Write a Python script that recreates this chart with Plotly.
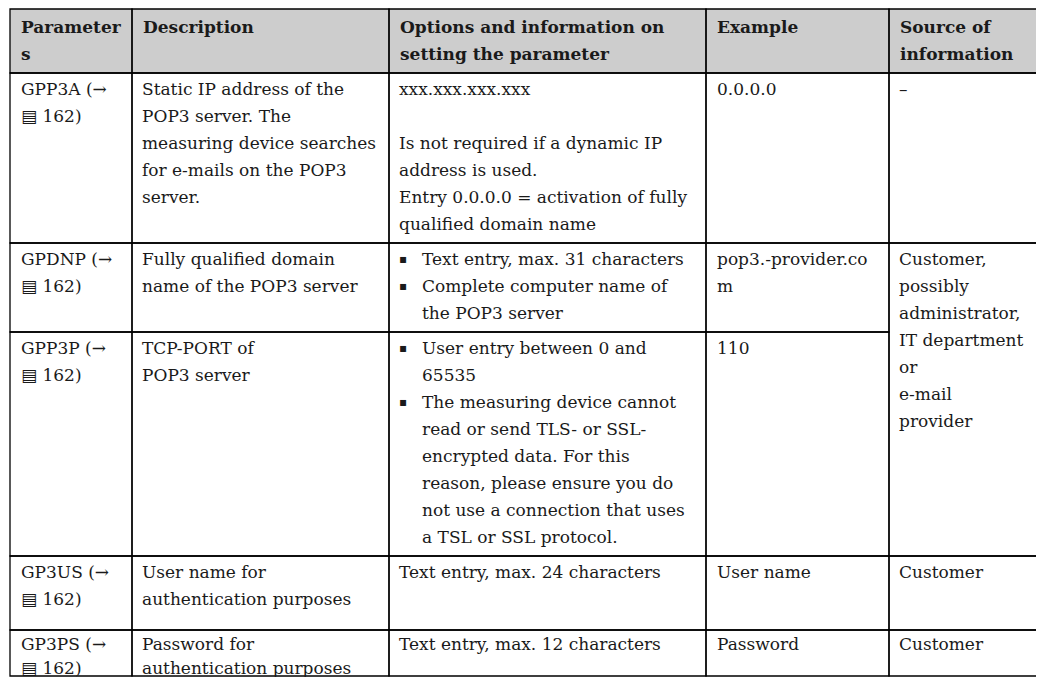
import plotly.graph_objects as go

# ---------------- data ----------------
headers = [
    ["Parameter", "s"],
    ["Description"],
    ["Options and information on", "setting the parameter"],
    ["Example"],
    ["Source of", "information"],
]

param_codes = ["GPP3A", "GPDNP", "GPP3P", "GP3US", "GP3PS"]
param_pages = ["162", "162", "162", "162", "162"]

descriptions = [
    ["Static IP address of the", "POP3 server. The", "measuring device searches",
     "for e-mails on the POP3", "server."],
    ["Fully qualified domain", "name of the POP3 server"],
    ["TCP-PORT of", "POP3 server"],
    ["User name for", "authentication purposes"],
    ["Password for", "authentication purposes"],
]

# each option cell: ("plain", [lines]) or ("bullets", [[lines], [lines]])
options = [
    ("plain", ["xxx.xxx.xxx.xxx", "", "Is not required if a dynamic IP", "address is used.",
               "Entry 0.0.0.0 = activation of fully", "qualified domain name"]),
    ("bullets", [["Text entry, max. 31 characters"],
                 ["Complete computer name of", "the POP3 server"]]),
    ("bullets", [["User entry between 0 and", "65535"],
                 ["The measuring device cannot", "read or send TLS- or SSL-",
                  "encrypted data. For this", "reason, please ensure you do",
                  "not use a connection that uses", "a TSL or SSL protocol."]]),
    ("plain", ["Text entry, max. 24 characters"]),
    ("plain", ["Text entry, max. 12 characters"]),
]

examples = [["0.0.0.0"], ["pop3.-provider.co", "m"], ["110"], ["User name"], ["Password"]]

# source column: (first row, last row, lines) -> merged cell spans rows 1..2
sources = [
    (0, 0, ["–"]),
    (1, 2, ["Customer,", "possibly", "administrator,", "IT department", "or", "e-mail", "provider"]),
    (3, 3, ["Customer"]),
    (4, 4, ["Customer"]),
]

# ---------------- layout geometry ----------------
W, H = 1044, 677
PAGE_OFF = 8          # default body margin of the written html page
col_x = [10, 132, 389, 706, 889, 1037]
row_y = [9, 73, 243, 332, 556, 630, 676]
pad_x = 8
row_line_h = [27, 27, 27, 27, 24]     # last (truncated) row is a bit tighter
row_first_off = [16, 16, 16, 16, 14]
head_line_h = 27
first_off_head = 18
FONT = "DejaVu Serif"
FS = 17
TXT = "#1a1a1a"

shapes = []
annotations = []


def add_text(x, y, s, bold=False, size=FS, family=FONT):
    annotations.append(dict(
        x=x, y=y, xref="x", yref="y", text=("<b>%s</b>" % s) if bold else s,
        showarrow=False, xanchor="left", yanchor="middle", align="left",
        font=dict(family=family, size=size, color=TXT)))


def add_lines(x, top, lines, off, lh, bold=False):
    for i, ln in enumerate(lines):
        if ln:
            add_text(x, top + off + i * lh, ln, bold=bold)


# header background
shapes.append(dict(type="rect", xref="x", yref="y", x0=col_x[0], x1=col_x[-1],
                   y0=row_y[0], y1=row_y[1], fillcolor="#cdcdcd",
                   line=dict(width=0), layer="below"))

for c, lines in enumerate(headers):
    add_lines(col_x[c] + pad_x + 1, row_y[0], lines, first_off_head, head_line_h, bold=True)


def cell_rect(x0, x1, y0, y1):
    shapes.append(dict(type="rect", xref="x", yref="y", x0=x0, x1=x1, y0=y0, y1=y1,
                       line=dict(color="#000000", width=1.3), fillcolor="rgba(0,0,0,0)"))


for c in range(5):
    cell_rect(col_x[c], col_x[c + 1], row_y[0], row_y[1])

# body rows
for r in range(5):
    top = row_y[r + 1]
    bot = row_y[r + 2]
    lh = row_line_h[r]
    off = row_first_off[r]
    for c in range(4):
        cell_rect(col_x[c], col_x[c + 1], top, bot)
    add_lines(col_x[0] + pad_x + 1, top,
              ["%s (→" % param_codes[r], "▤ %s)" % param_pages[r]], off, lh)
    add_lines(col_x[1] + pad_x, top, descriptions[r], off, lh)
    kind, content = options[r]
    if kind == "plain":
        add_lines(col_x[2] + pad_x, top, content, off, lh)
    else:
        k = 0
        for item in content:
            add_text(col_x[2] + pad_x, top + off + k * lh, "▪",
                     size=12, family="DejaVu Sans")
            add_lines(col_x[2] + 31, top + k * lh, item, off, lh)
            k += len(item)
    add_lines(col_x[3] + pad_x + 1, top, examples[r], off, lh)

for r0, r1, lines in sources:
    top = row_y[r0 + 1]
    bot = row_y[r1 + 2]
    cell_rect(col_x[4], col_x[5], top, bot)
    add_lines(col_x[4] + pad_x, top, lines, row_first_off[r0], row_line_h[r0])

fig = go.Figure()
fig.update_layout(
    width=W - PAGE_OFF, height=H - PAGE_OFF,
    margin=dict(l=0, r=0, t=0, b=0),
    paper_bgcolor="white", plot_bgcolor="white",
    xaxis=dict(range=[PAGE_OFF, W], visible=False, fixedrange=True),
    yaxis=dict(range=[H, PAGE_OFF], visible=False, fixedrange=True),
    shapes=shapes, annotations=annotations, showlegend=False,
)
fig.write_html("out.html")
